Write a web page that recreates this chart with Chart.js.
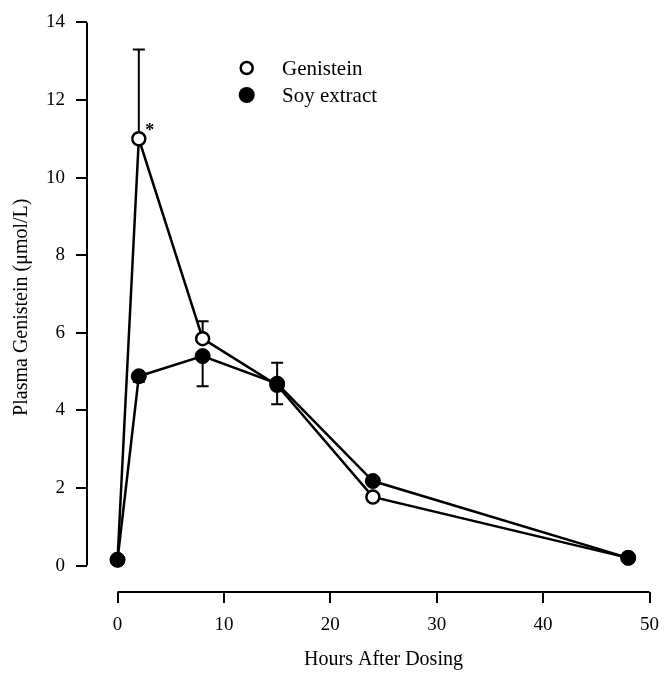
<!DOCTYPE html>
<html>
<head>
<meta charset="utf-8">
<script src="https://cdn.jsdelivr.net/npm/chart.js@4.4.1/dist/chart.umd.min.js"></script>
<style>
  html, body { margin: 0; padding: 0; background: #fff; }
</style>
</head>
<body>
<canvas id="myChart" width="670" height="673"></canvas>
<script>
// Daten
const hours = [0, 2, 8, 15, 24, 48];
const genistein = [0.15, 11.0, 5.85, 4.65, 1.77, 0.2];
const genisteinErrUp = [0, 2.3, 0.45, 0, 0, 0];
const genisteinErrDown = [0, 0, 0, 0, 0, 0];
const soyExtract = [0.15, 4.88, 5.4, 4.69, 2.18, 0.2];
const soyErrUp = [0, 0, 0, 0.54, 0, 0];
const soyErrDown = [0, 0.15, 0.78, 0.53, 0, 0];
const xTicks = [0, 10, 20, 30, 40, 50];
const yTicks = [0, 2, 4, 6, 8, 10, 12, 14];
const seriesNames = ['Genistein', 'Soy extract'];
const xTitle = 'Hours After Dosing';
const yTitle = 'Plasma Genistein (μmol/L)';

const serif = "'Liberation Serif', 'DejaVu Serif', serif";

function toPoints(values) {
    return hours.map((h, i) => ({ x: h, y: values[i] }));
}

// Fehlerbalken, Achsenlinien, Legende und Titel
const extras = {
    id: 'extras',
    beforeDatasetsDraw(chart) {
        const ctx = chart.ctx;
        const xs = chart.scales.x, ys = chart.scales.y;
        const sets = [[genistein, genisteinErrUp, genisteinErrDown], [soyExtract, soyErrUp, soyErrDown]];
        ctx.save();
        ctx.strokeStyle = '#000';
        ctx.lineWidth = 2;
        sets.forEach(([vals, up, down]) => {
            vals.forEach((v, i) => {
                const px = xs.getPixelForValue(hours[i]);
                [[up[i], 1], [down[i], -1]].forEach(([e, dir]) => {
                    if (!e) return;
                    const y0 = ys.getPixelForValue(v);
                    const y1 = ys.getPixelForValue(v + dir * e);
                    ctx.beginPath();
                    ctx.moveTo(px, y0);
                    ctx.lineTo(px, y1);
                    ctx.moveTo(px - 6, y1);
                    ctx.lineTo(px + 6, y1);
                    ctx.stroke();
                });
            });
        });
        ctx.restore();
    },
    afterDraw(chart) {
        const ctx = chart.ctx;
        const xs = chart.scales.x, ys = chart.scales.y;
        const area = chart.chartArea;
        ctx.save();
        ctx.strokeStyle = '#000';
        ctx.fillStyle = '#000';
        ctx.lineWidth = 2;

        // Achsenlinien
        ctx.beginPath();
        ctx.moveTo(area.left, ys.getPixelForValue(yTicks[0]));
        ctx.lineTo(area.left, ys.getPixelForValue(yTicks[yTicks.length - 1]));
        ctx.moveTo(xs.getPixelForValue(xTicks[0]), area.bottom);
        ctx.lineTo(xs.getPixelForValue(xTicks[xTicks.length - 1]), area.bottom);
        ctx.stroke();

        // Stern am Maximum
        ctx.font = 'bold 18px ' + serif;
        ctx.textAlign = 'center';
        ctx.textBaseline = 'alphabetic';
        ctx.fillText('*', xs.getPixelForValue(hours[1]) + 11, ys.getPixelForValue(genistein[1]) - 3);

        // Legende
        ctx.font = '21px ' + serif;
        ctx.textAlign = 'left';
        ctx.textBaseline = 'middle';
        ctx.beginPath();
        ctx.arc(246.7, 68, 6, 0, Math.PI * 2);
        ctx.fillStyle = '#fff';
        ctx.fill();
        ctx.lineWidth = 2.5;
        ctx.stroke();
        ctx.fillStyle = '#000';
        ctx.beginPath();
        ctx.arc(246.7, 95, 8, 0, Math.PI * 2);
        ctx.fill();
        ctx.fillText(seriesNames[0], 282, 69);
        ctx.fillText(seriesNames[1], 282, 96);

        // Achsentitel
        ctx.font = '20px ' + serif;
        ctx.textAlign = 'center';
        ctx.fillText(xTitle, (xs.getPixelForValue(0) + xs.getPixelForValue(50)) / 2, 660);
        ctx.translate(22, (area.top + area.bottom) / 2);
        ctx.rotate(-Math.PI / 2);
        ctx.fillText(yTitle, 0, 0);
        ctx.restore();
    }
};

const axisBase = {
    type: 'linear',
    border: { display: false },
    grid: { drawOnChartArea: false, drawTicks: true, tickLength: 11, color: '#000', lineWidth: 2 },
    ticks: { color: '#000', font: { family: serif, size: 19 }, padding: 11, maxRotation: 0 }
};

const config = {
    type: 'line',
    data: {
        datasets: [{
            label: seriesNames[0],
            data: toPoints(genistein),
            borderColor: '#000',
            borderWidth: 2.5,
            backgroundColor: '#fff',
            pointBackgroundColor: '#fff',
            pointBorderColor: '#000',
            pointBorderWidth: 2.5,
            pointRadius: 6.5,
            tension: 0,
            order: 2
        }, {
            label: seriesNames[1],
            data: toPoints(soyExtract),
            borderColor: '#000',
            borderWidth: 2.5,
            backgroundColor: '#000',
            pointBackgroundColor: '#000',
            pointBorderColor: '#000',
            pointBorderWidth: 1,
            pointRadius: 7.5,
            tension: 0,
            order: 1
        }]
    },
    options: {
        responsive: false,
        animation: false,
        layout: { padding: { left: 0, right: 12, top: 21.7, bottom: 0 } },
        plugins: { legend: { display: false }, tooltip: { enabled: false } },
        scales: {
            x: Object.assign({}, axisBase, {
                min: -2.87, max: 50,
                afterBuildTicks: s => { s.ticks = xTicks.map(v => ({ value: v })); },
                afterFit: s => { s.height = 81; }
            }),
            y: Object.assign({}, axisBase, {
                min: -0.68, max: 14,
                afterBuildTicks: s => { s.ticks = yTicks.map(v => ({ value: v })); },
                afterFit: s => { s.width = 87; }
            })
        }
    },
    plugins: [extras]
};

const ctx = document.getElementById('myChart').getContext('2d');
const myChart = new Chart(ctx, config);
</script>
</body>
</html>
